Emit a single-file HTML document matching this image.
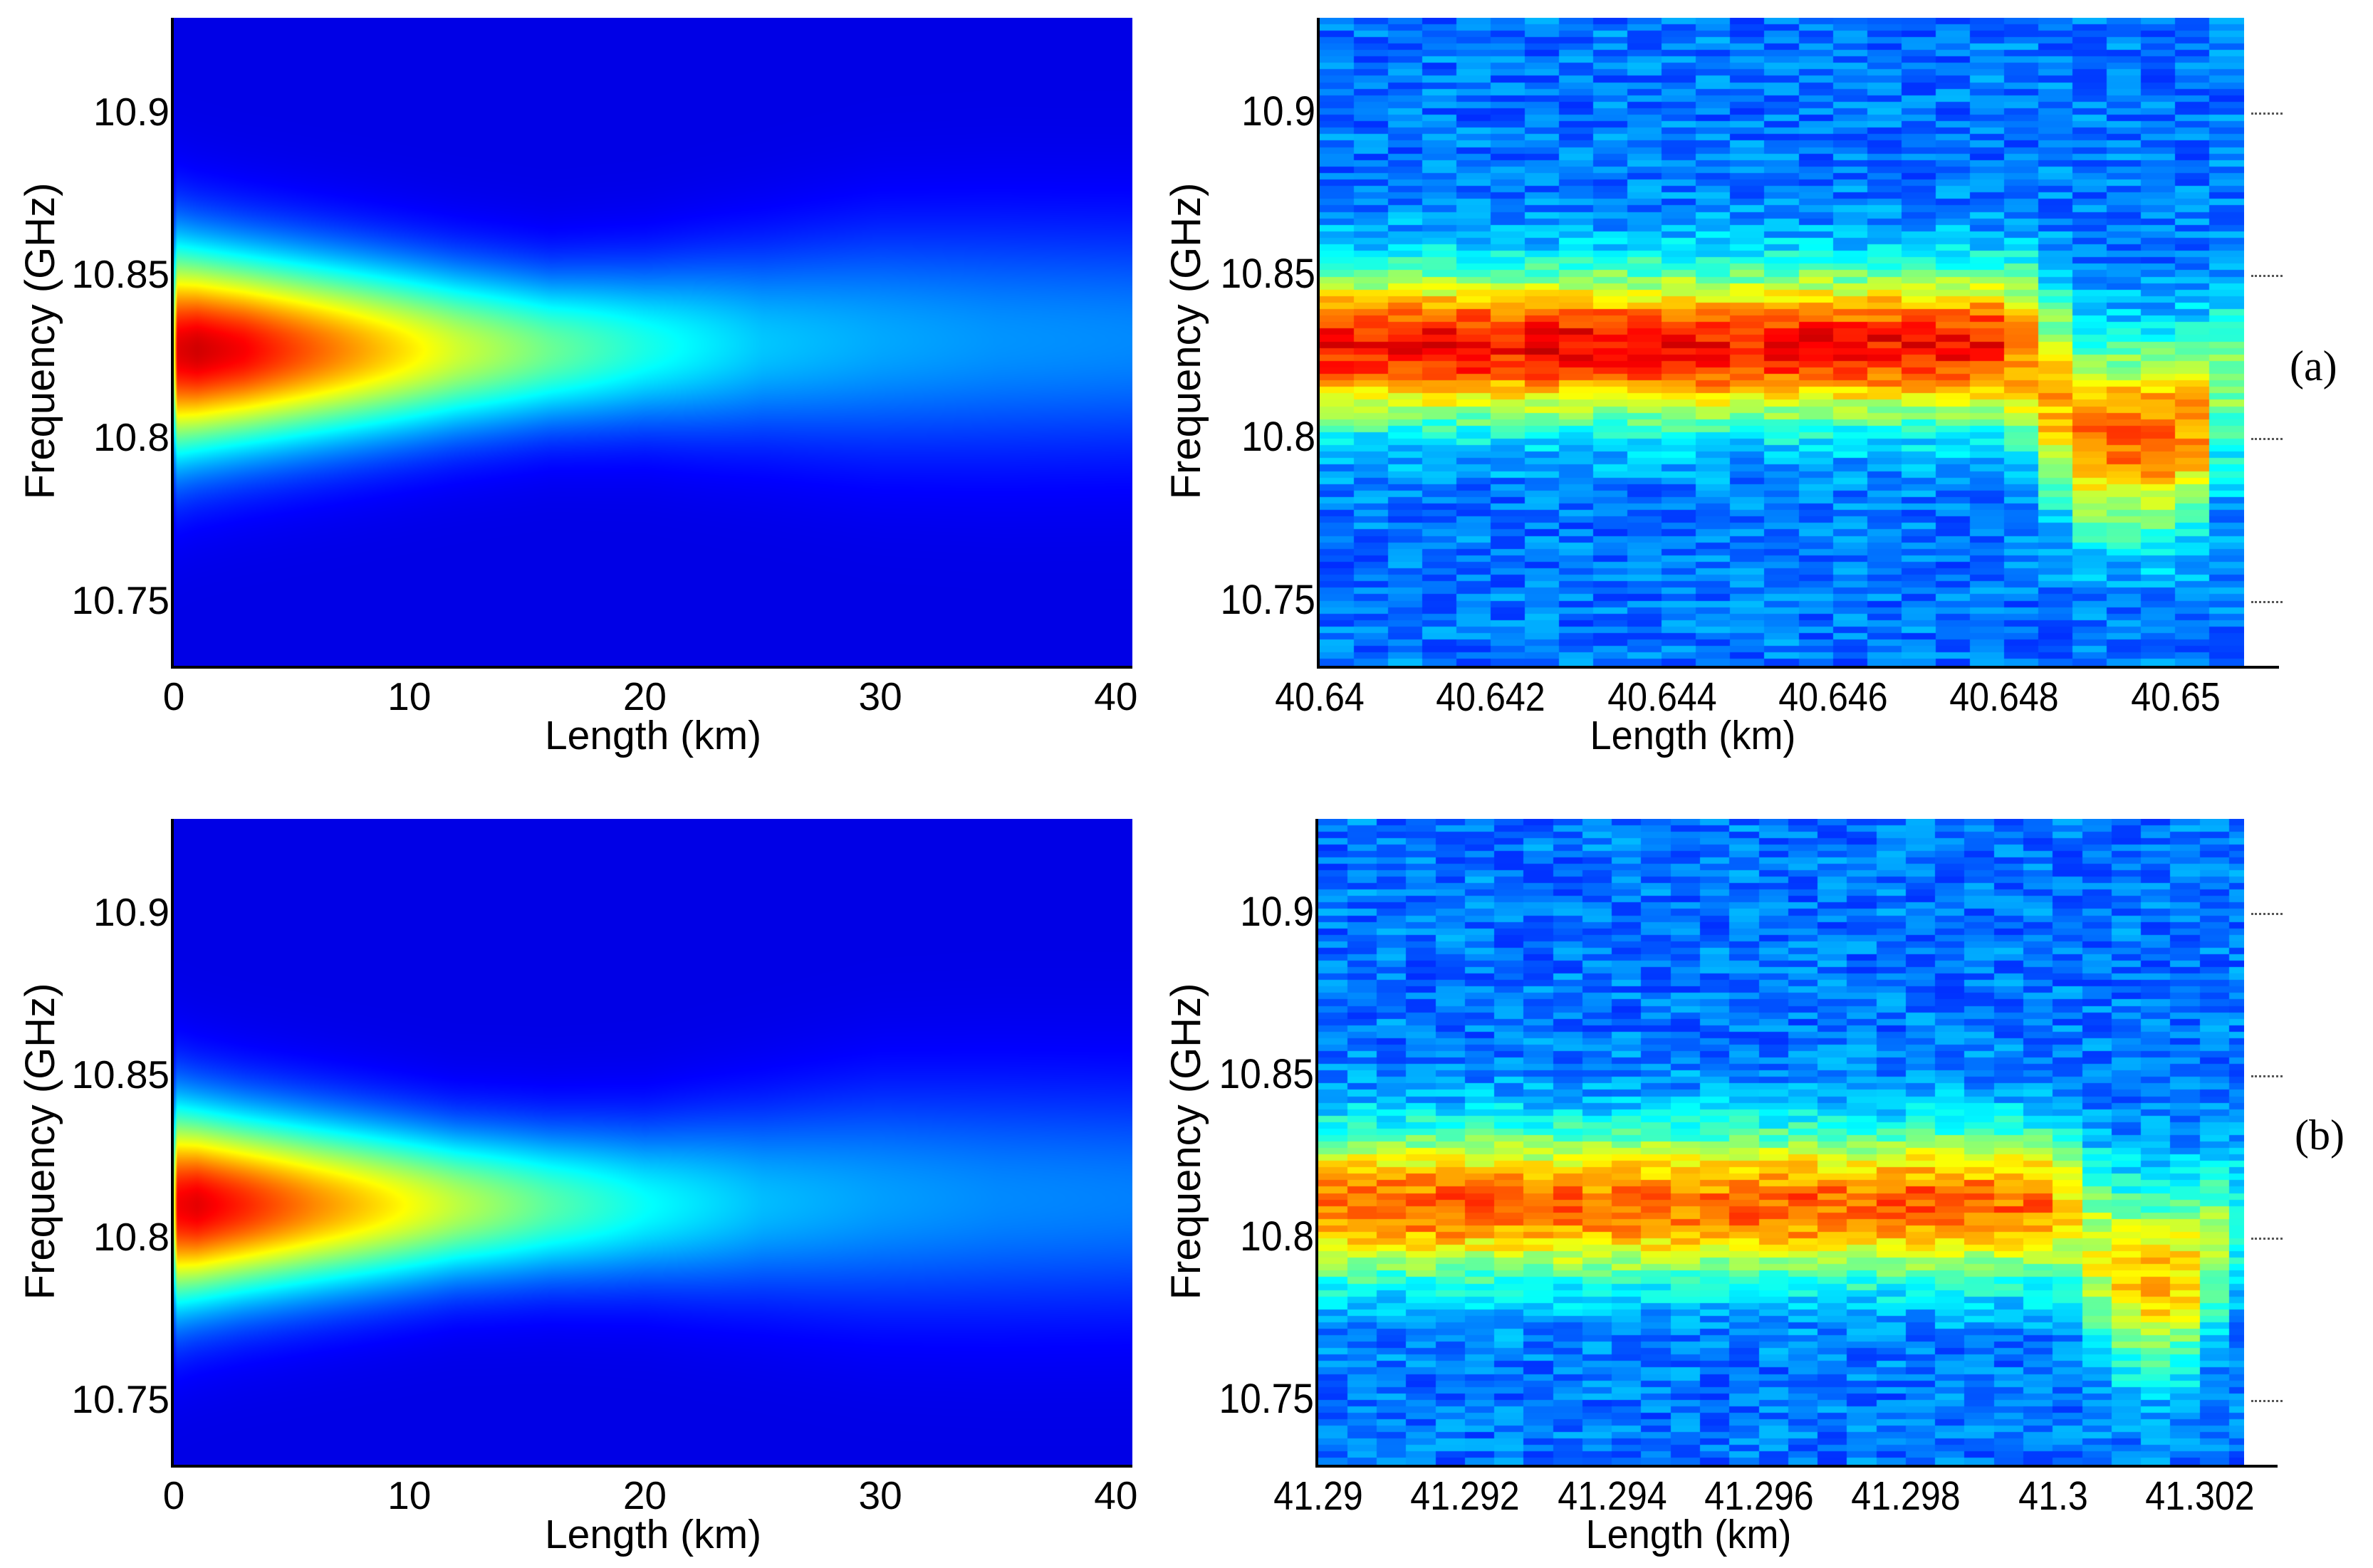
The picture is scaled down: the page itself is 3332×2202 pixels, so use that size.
<!DOCTYPE html>
<html><head><meta charset="utf-8">
<style>
body{margin:0;background:#fff;}
#root{position:relative;width:3332px;height:2202px;background:#fff;overflow:hidden;font-family:"Liberation Sans",Arial,sans-serif;color:#000;}
canvas{position:absolute;}
.t{position:absolute;font-size:55px;white-space:nowrap;line-height:1;}
.yl{text-align:right;}
.sp{position:absolute;background:#000;}
.tag{position:absolute;font-family:"Liberation Serif",serif;font-size:60px;}
.dot{position:absolute;height:0;border-top:3px dotted #555;width:44px;}
</style></head>
<body>
<div id="root"></div>
<script>
// ===== Data =====
const aKm   = [0, 1, 3, 6, 9, 12, 16, 20, 25, 30, 35, 40.7];
const aFc   = [10.827,10.827,10.827,10.827,10.827,10.827,10.827,10.828,10.829,10.830,10.830,10.830];
const aAmp  = [0.80,0.82,0.78,0.68,0.58,0.48,0.38,0.30,0.22,0.19,0.17,0.16];
const aSig  = [0.022,0.021,0.020,0.019,0.018,0.017,0.016,0.017,0.020,0.023,0.024,0.024];
const bKm   = [0, 1, 3, 6, 9, 12, 16, 20, 25, 30, 35, 40.7];
const bFc   = [10.810,10.810,10.810,10.810,10.810,10.810,10.810,10.810,10.811,10.812,10.812,10.812];
const bAmp  = [0.78,0.80,0.74,0.64,0.55,0.46,0.36,0.28,0.21,0.18,0.16,0.15];
const bSig  = [0.021,0.020,0.019,0.018,0.017,0.016,0.016,0.017,0.020,0.023,0.024,0.024];
const azFc  = [10.828,10.828,10.828,10.828,10.828,10.828,10.828,10.828,10.828,10.828,10.828,10.828,10.828,10.828,10.828,10.828,10.828,10.828,10.828,10.828,10.826,10.812,10.800,10.800,10.800,10.802,10.815];
const azAmp = [0.62,0.63,0.62,0.63,0.64,0.62,0.63,0.64,0.63,0.62,0.64,0.63,0.62,0.63,0.64,0.62,0.63,0.62,0.63,0.62,0.52,0.46,0.52,0.54,0.54,0.50,0.26];
const azSig = [0.016,0.016,0.016,0.016,0.016,0.016,0.016,0.016,0.016,0.016,0.016,0.016,0.016,0.016,0.016,0.016,0.016,0.016,0.016,0.016,0.018,0.022,0.020,0.020,0.020,0.020,0.020];
const bzFc  = [10.810,10.810,10.810,10.810,10.810,10.810,10.810,10.810,10.810,10.810,10.810,10.810,10.810,10.810,10.810,10.810,10.810,10.810,10.810,10.810,10.810,10.810,10.810,10.810,10.810,10.808,10.795,10.788,10.786,10.788,10.798,10.805];
const bzAmp = [0.52,0.54,0.53,0.54,0.55,0.53,0.54,0.52,0.54,0.53,0.55,0.54,0.53,0.52,0.54,0.53,0.55,0.54,0.53,0.54,0.55,0.54,0.54,0.53,0.52,0.42,0.36,0.42,0.46,0.42,0.30,0.16];
const bzSig = [0.016,0.016,0.016,0.016,0.016,0.016,0.016,0.016,0.016,0.016,0.016,0.016,0.016,0.016,0.016,0.016,0.016,0.016,0.016,0.016,0.016,0.016,0.016,0.016,0.016,0.017,0.020,0.020,0.019,0.019,0.018,0.018];
const yTicks = [10.9, 10.85, 10.8, 10.75];
const yTickLabels = ['10.9','10.85','10.8','10.75'];
const xTicksL = [0,10,20,30,40];
const xTicksA = [40.64,40.642,40.644,40.646,40.648,40.65];
const xTicksB = [41.29,41.292,41.294,41.296,41.298,41.3,41.302];

const root = document.getElementById('root');
const FMIN = 10.73, FMAX = 10.929;

function jet(v){
  v=Math.max(0,Math.min(1,v));
  const c=x=>Math.max(0,Math.min(1,1.5-Math.abs(x)));
  return [c(4*v-3)*255, c(4*v-2)*255, c(4*v-1)*255];
}
function interp(xs, ys, x){
  if(x<=xs[0]) return ys[0];
  for(let i=1;i<xs.length;i++){ if(x<=xs[i]){const t=(x-xs[i-1])/(xs[i]-xs[i-1]);return ys[i-1]+t*(ys[i]-ys[i-1]);} }
  return ys[ys.length-1];
}
function hash(i,j){ let h=(i*374761393+j*668265263)|0; h=(h^(h>>>13))*1274126177|0; return ((h>>>0)%1000)/1000; }

function mkText(txt, x, y, name, cls, extra){
  const d=document.createElement('div');
  d.className='t '+(cls||'');
  d.textContent=txt;
  
  
  d.style.left=x+'px'; d.style.top=y+'px';
  if(extra) Object.assign(d.style, extra);
  root.appendChild(d);
  return d;
}
function spine(x,y,w,h,name){
  const d=document.createElement('div'); d.className='sp';
  
  
  Object.assign(d.style,{left:x+'px',top:y+'px',width:w+'px',height:h+'px'});
  root.appendChild(d);
}

function panel(opt){
  const {L,T,W,H,name} = opt;
  const cv=document.createElement('canvas');
  cv.width=W; cv.height=H; cv.style.left=L+'px'; cv.style.top=T+'px';
  
  
  root.appendChild(cv);
  const ctx=cv.getContext('2d');
  const yOf=f=>(FMAX-f)/(FMAX-FMIN)*H;
  const xOf=k=>(k-opt.x0)/(opt.x1-opt.x0)*W;
  if(opt.type==='overview'){
    const img=ctx.createImageData(W,H);
    for(let x=0;x<W;x++){
      const k=opt.x0+(x+0.5)/W*(opt.x1-opt.x0);
      const fc=interp(opt.km,opt.fc,k), A=interp(opt.km,opt.amp,k), s=interp(opt.km,opt.sig,k);
      const rise=Math.min(1,0.55+k*3);
      for(let y=0;y<H;y++){
        const f=FMAX-(y+0.5)/H*(FMAX-FMIN);
        const v=0.1+A*rise*Math.exp(-(f-fc)*(f-fc)/(2*s*s));
        const c=jet(v); const p=(y*W+x)*4;
        img.data[p]=c[0];img.data[p+1]=c[1];img.data[p+2]=c[2];img.data[p+3]=255;
      }
    }
    ctx.putImageData(img,0,0);
  } else {
    const nR=100, dk=0.0004;
    for(let i=0;i<opt.fc.length;i++){
      const xa=xOf(opt.x0+i*dk), xb=Math.min(W,xOf(opt.x0+(i+1)*dk));
      for(let j=0;j<nR;j++){
        const f=FMAX-(j+0.5)/nR*(FMAX-FMIN);
        const g=Math.exp(-(f-opt.fc[i])*(f-opt.fc[i])/(2*opt.sig[i]*opt.sig[i]));
        const v=0.24+(hash(i+opt.seed,j)-0.5)*0.14+opt.amp[i]*g;
        const c=jet(v);
        ctx.fillStyle=`rgb(${c[0]|0},${c[1]|0},${c[2]|0})`;
        ctx.fillRect(Math.floor(xa),Math.floor(j*H/nR),Math.ceil(xb-xa)+1,Math.ceil(H/nR)+1);
      }
    }
  }
  spine(L-4,T,4,H+3,name+'-y-axis');
  spine(L-4,T+H,opt.axisW+4,4,name+'-x-axis');
  yTicks.forEach((v,i)=>{
    const y=T+yOf(v);
    const lab=mkText(yTickLabels[i], 0, y-28, name+'-y-tick-label', 'yl', {width:(L-6)+'px'});
    if(opt.narrow){ lab.style.fontSize='58px'; lab.style.top=(y-30)+'px'; lab.style.transform='scaleX(0.92)'; lab.style.transformOrigin='right center'; }
    if(opt.dots){
      const d=document.createElement('div'); d.className='dot';
      
      
      d.style.left=(L+W+10)+'px'; d.style.top=y+'px';
      root.appendChild(d);
    }
  });
  opt.xt.forEach(v=>{
    const x=L+xOf(v);
    const lab=mkText(String(v), x-150, T+H+16, name+'-x-tick-label', '', {width:'300px',textAlign:'center'});
    if(opt.narrow){ lab.style.transform='scaleX(0.88)'; lab.style.transformOrigin='center'; lab.style.fontSize='57px'; }
  });
  mkText('Length (km)', L+W/2-opt.xlShift-250, T+H+70, name+'-x-axis-title', '', {width:'500px',textAlign:'center',fontSize:'57px',transform:opt.narrow?'scaleX(0.95)':'none'});
  mkText('Frequency (GHz)', opt.ylX-300, T+H/2-30, name+'-y-axis-title', '', {width:'600px',textAlign:'center',fontSize:'58px',transform:'rotate(-90deg)'});
}

panel({name:'panel-a-overview',type:'overview',L:244,T:25,W:1346,H:910,x0:0,x1:40.7,km:aKm,fc:aFc,amp:aAmp,sig:aSig,xt:xTicksL,axisW:1346,ylX:57,xlShift:0});
panel({name:'panel-b-overview',type:'overview',L:244,T:1150,W:1346,H:907,x0:0,x1:40.7,km:bKm,fc:bFc,amp:bAmp,sig:bSig,xt:xTicksL,axisW:1346,ylX:57,xlShift:0});
panel({name:'panel-a-zoom',type:'zoom',L:1853,T:25,W:1298,H:910,x0:40.64,x1:40.6508,fc:azFc,amp:azAmp,sig:azSig,xt:xTicksA,axisW:1347,ylX:1666,xlShift:125,narrow:true,dots:true,seed:3});
panel({name:'panel-b-zoom',type:'zoom',L:1851,T:1150,W:1300,H:907,x0:41.29,x1:41.3026,fc:bzFc,amp:bzAmp,sig:bzSig,xt:xTicksB,axisW:1347,ylX:1666,xlShift:130,narrow:true,dots:true,seed:77});

const ta=document.createElement('div'); ta.className='tag'; ta.textContent='(a)';


ta.style.left='3215px'; ta.style.top='480px'; root.appendChild(ta);
const tb=document.createElement('div'); tb.className='tag'; tb.textContent='(b)';


tb.style.left='3222px'; tb.style.top='1560px'; root.appendChild(tb);
</script>
</body></html>
